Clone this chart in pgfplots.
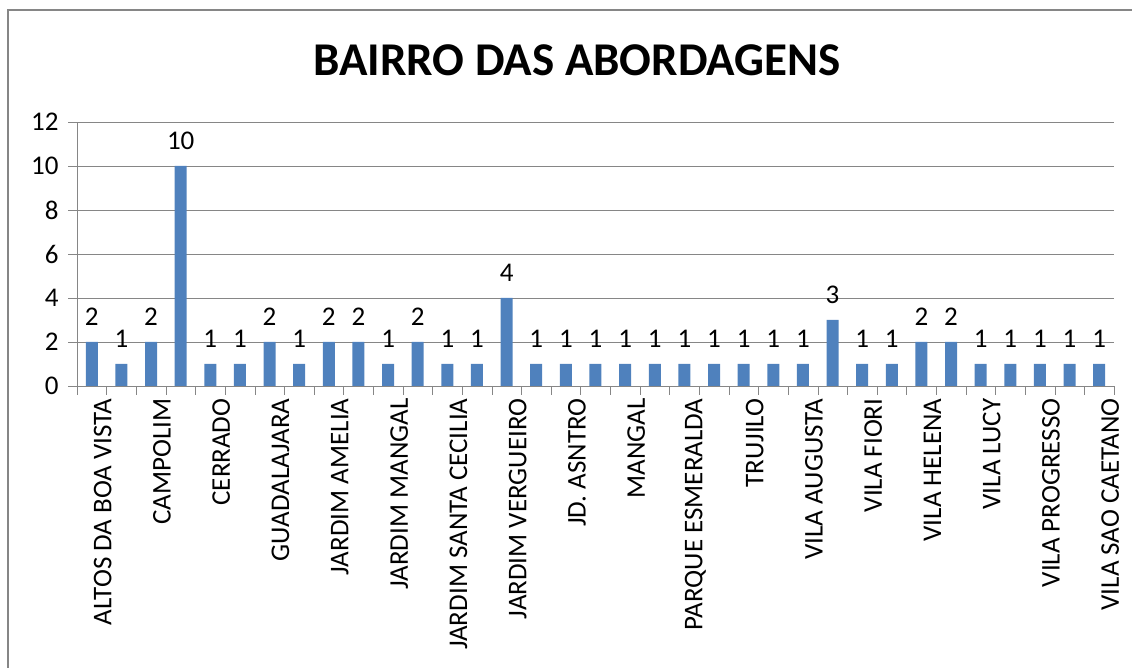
\documentclass[border=0pt]{standalone}
\usepackage{pgfplots}
\pgfplotsset{compat=1.18}
\usepackage{fontspec}
\setmainfont{Carlito}
\definecolor{barblue}{HTML}{4F81BD}
\definecolor{gridgray}{HTML}{868686}
\begin{document}
\begin{tikzpicture}[x=1pt,y=1pt]
\useasboundingbox (0,0) rectangle (1132,668);
\draw[gridgray, line width=1.5pt] (8,0) -- (8,658) -- (1132,658);
\node[font=\fontsize{47}{56}\selectfont\bfseries] at (577,607.5) {BAIRRO DAS ABORDAGENS};
\begin{axis}[
  at={(77pt,282pt)}, anchor=south west,
  scale only axis,
  width=1037pt, height=264pt,
  ybar, bar width=12pt,
  xmin=-0.5, xmax=34.5,
  ymin=0, ymax=12,
  ytick={0,2,...,12},
  xtick={0,2,...,34},
  xticklabels={ALTOS DA BOA VISTA,CAMPOLIM,CERRADO,GUADALAJARA,JARDIM AMELIA,JARDIM MANGAL,JARDIM SANTA CECILIA,JARDIM VERGUEIRO,JD. ASNTRO,MANGAL,PARQUE ESMERALDA,TRUJILO,VILA AUGUSTA,VILA FIORI,VILA HELENA,VILA LUCY,VILA PROGRESSO,VILA SAO CAETANO},
  minor xtick={-0.5,0.5,...,34.5},
  major x tick style={draw=none},
  tick align=outside,
  major tick length=9pt, minor tick length=9pt,
  axis x line*=bottom, axis y line*=left,
  axis line style={gridgray},
  every tick/.style={gridgray},
  ymajorgrids, grid style={gridgray},
  tick label style={font=\fontsize{27}{32}\selectfont},
  xticklabel style={rotate=90, anchor=east, yshift=-11pt},
  yticklabel style={xshift=-6pt},
  /pgf/number format/assume math mode=true,
  nodes near coords,
  every node near coord/.append style={font=\fontsize{27}{32}\selectfont, yshift=13pt},
]
\addplot[fill=barblue, draw=none] coordinates {
(0,2) (1,1) (2,2) (3,10) (4,1) (5,1) (6,2) (7,1) (8,2) (9,2)
(10,1) (11,2) (12,1) (13,1) (14,4) (15,1) (16,1) (17,1) (18,1) (19,1)
(20,1) (21,1) (22,1) (23,1) (24,1) (25,3) (26,1) (27,1) (28,2) (29,2)
(30,1) (31,1) (32,1) (33,1) (34,1)};
\end{axis}
\end{tikzpicture}
\end{document}
